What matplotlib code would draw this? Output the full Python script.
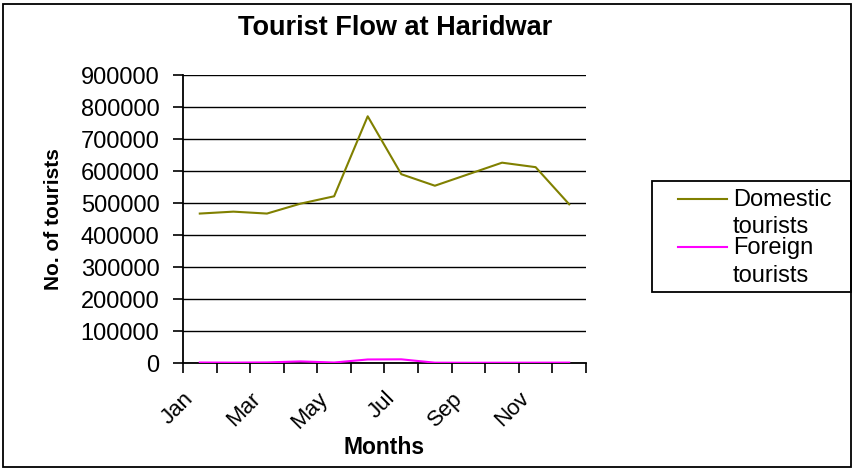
import numpy as np
import matplotlib
matplotlib.use("Agg")
import matplotlib.pyplot as plt
from matplotlib.patches import Rectangle
from matplotlib.lines import Line2D

plt.rcParams["font.family"] = ["Liberation Sans", "DejaVu Sans"]

# data
months = ["Jan", "Feb", "Mar", "Apr", "May", "Jun",
          "Jul", "Aug", "Sep", "Oct", "Nov", "Dec"]
domestic = [467000, 473000, 467000, 498000, 521000, 771000,
            590000, 554000, 590000, 626000, 612000, 496000]
foreign = [1500, 1200, 1800, 5000, 1500, 11000,
           11500, 1000, 800, 900, 1000, 1200]
series_names = ["Domestic tourists", "Foreign tourists"]
series_colors = ["#808000", "#FF00FF"]
y_ticks = list(range(0, 900001, 100000))

W, H = 854, 470
fig = plt.figure(figsize=(W / 100, H / 100), dpi=100)

# outer chart border
fig.patches.append(Rectangle((3 / W, 3 / H), 848 / W, 463 / H, transform=fig.transFigure,
                             fill=False, edgecolor="black", linewidth=1.3))

ax = fig.add_axes([183 / W, (H - 363) / H, 403 / W, 288 / H])

x = np.arange(len(months))
for vals, name, col in zip([domestic, foreign], series_names, series_colors):
    ax.plot(x, vals, color=col, linewidth=1.5, zorder=3, label=name)

ax.set_xlim(-0.5, len(months) - 0.5)
ax.set_ylim(0, 900000)
ax.set_yticks(y_ticks)
ax.set_yticklabels([str(v) for v in y_ticks])
ax.yaxis.grid(True, color="black", linewidth=1.0)
ax.set_axisbelow(True)

# ticks on category boundaries, every other month labelled
bounds = np.arange(len(months) + 1) - 0.5
ax.set_xticks(bounds)
xlabels = [m if i % 2 == 0 else "" for i, m in enumerate(months)] + [""]
ax.set_xticklabels(xlabels, fontsize=16, rotation=45, ha="right", va="top",
                   rotation_mode="anchor")

for s in ["top", "right"]:
    ax.spines[s].set_visible(False)
for s in ["left", "bottom"]:
    ax.spines[s].set_linewidth(1.3)
ax.tick_params(axis="y", direction="out", length=7, width=1.2, pad=10, labelsize=17)
ax.tick_params(axis="x", direction="out", length=7, width=1.2, pad=11)

ax.set_ylabel("No. of tourists", fontsize=15, fontweight="bold")
ax.yaxis.set_label_coords(-0.298, 0.5)
ax.set_xlabel("Months", fontsize=16.5, fontweight="bold")
ax.xaxis.set_label_coords(0.5, -0.255)

fig.text(395 / W, (H - 35) / H, "Tourist Flow at Haridwar", fontsize=19.5,
         fontweight="bold", ha="center", va="baseline")

# legend drawn by hand to get Excel-like layout
fig.patches.append(Rectangle((652 / W, (H - 292) / H), 199 / W, 111 / H,
                             transform=fig.transFigure, fill=False,
                             edgecolor="black", linewidth=1.3))
handle_y = [199, 247]
text_base = [(206, 233), (254, 282)]
for name, col, hy, (b1, b2) in zip(series_names, series_colors, handle_y, text_base):
    fig.lines.append(Line2D([678 / W, 727 / W], [(H - hy) / H] * 2,
                            transform=fig.transFigure, color=col, linewidth=1.5))
    w1, w2 = name.split(" ")
    fig.text(733 / W, (H - b1) / H, w1, fontsize=17, va="baseline")
    fig.text(733 / W, (H - b2) / H, w2, fontsize=17, va="baseline")

fig.savefig("out.png", dpi=100)
